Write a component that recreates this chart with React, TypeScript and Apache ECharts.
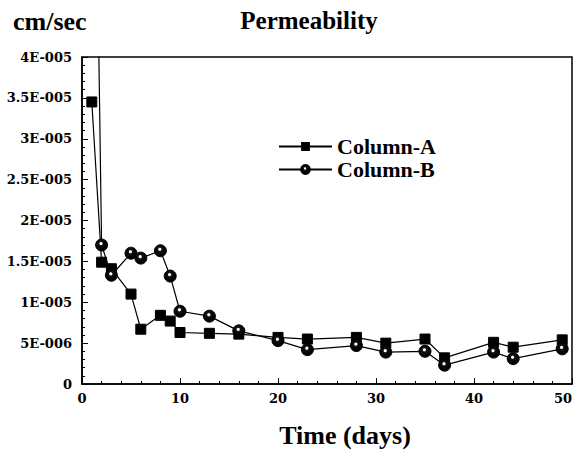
import React, { useEffect, useRef } from "react";
import * as echarts from "echarts";

// Elapsed time in days for each measurement
const daysA = [1, 2, 3, 5, 6, 8, 9, 10, 13, 16, 20, 23, 28, 31, 35, 37, 42, 44, 49];
const daysB = [1, 2, 3, 5, 6, 8, 9, 10, 13, 16, 20, 23, 28, 31, 35, 37, 42, 44, 49];

// Permeability (cm/sec)
const columnA = [
  3.45e-5, 1.49e-5, 1.41e-5, 1.1e-5, 6.7e-6, 8.4e-6, 7.7e-6, 6.3e-6, 6.2e-6, 6.1e-6,
  5.7e-6, 5.5e-6, 5.7e-6, 5.0e-6, 5.5e-6, 3.2e-6, 5.1e-6, 4.5e-6, 5.4e-6,
];
const columnB = [
  1.0e-4, 1.7e-5, 1.33e-5, 1.6e-5, 1.54e-5, 1.63e-5, 1.32e-5, 8.9e-6, 8.3e-6, 6.5e-6,
  5.3e-6, 4.2e-6, 4.7e-6, 3.9e-6, 4.0e-6, 2.3e-6, 3.9e-6, 3.1e-6, 4.3e-6,
];

const yTickLabels = ["0", "5E-006", "1E-005", "1.5E-005", "2E-005", "2.5E-005", "3E-005", "3.5E-005", "4E-005"];
const yStep = 5e-6;

const serif = "'Liberation Serif', 'Times New Roman', serif";
const tickFont = "'DejaVu Serif', serif";

export default function App() {
  const ref = useRef<HTMLDivElement>(null);

  useEffect(() => {
    if (!ref.current) return;
    const chart = echarts.init(ref.current, null, { renderer: "svg" });

    // Shaded ball marker: black sphere with a small white highlight
    const sphere = new echarts.graphic.RadialGradient(0.45, 0.38, 0.5, [
      { offset: 0, color: "#ffffff" },
      { offset: 0.18, color: "#ffffff" },
      { offset: 0.34, color: "#111111" },
      { offset: 1, color: "#000000" },
    ]);

    chart.setOption({
      animation: false,
      backgroundColor: "#ffffff",
      grid: {
        left: 82,
        right: 7,
        top: 57,
        bottom: 68,
        outerBoundsMode: "none",
        containLabel: false,
        show: true,
        borderColor: "#000",
        borderWidth: 1.5,
        backgroundColor: "transparent",
      },
      graphic: [
        {
          type: "text",
          left: 13,
          top: 8,
          style: { text: "cm/sec", font: `bold 26px ${serif}`, fill: "#000" },
        },
        {
          type: "text",
          x: 309,
          y: 8,
          style: {
            text: "Permeability",
            font: `bold 25px ${serif}`,
            fill: "#000",
            align: "center",
            verticalAlign: "top",
          },
        },
      ],
      legend: {
        orient: "vertical",
        left: 273,
        top: 130,
        itemWidth: 53,
        itemHeight: 11,
        itemGap: 0,
        textStyle: {
          fontFamily: serif,
          fontWeight: "bold",
          fontSize: 22,
          color: "#000",
          lineHeight: 23,
        },
        data: ["Column-A", "Column-B"],
      },
      xAxis: {
        type: "value",
        min: 0,
        max: 50,
        interval: 10,
        name: "Time (days)",
        nameLocation: "middle",
        nameGap: 38,
        nameTextStyle: {
          fontFamily: serif,
          fontWeight: "bold",
          fontSize: 26,
          color: "#000",
          padding: [0, 0, 0, 36],
        },
        axisLine: { lineStyle: { color: "#000", width: 1.5 } },
        axisTick: { inside: true, length: 6, lineStyle: { color: "#000" } },
        minorTick: { show: true, splitNumber: 5, length: 3, lineStyle: { color: "#000" } },
        splitLine: { show: false },
        axisLabel: {
          margin: 8,
          fontFamily: tickFont,
          fontWeight: "bold",
          fontSize: 13,
          color: "#000",
          alignMaxLabel: "right",
        },
      },
      yAxis: {
        type: "value",
        min: 0,
        max: 4e-5,
        interval: yStep,
        axisLine: { lineStyle: { color: "#000", width: 1.5 } },
        axisTick: { inside: true, length: 6, lineStyle: { color: "#000" } },
        minorTick: { show: true, splitNumber: 5, length: 3, lineStyle: { color: "#000" } },
        splitLine: { show: false },
        axisLabel: {
          margin: 10,
          fontFamily: tickFont,
          fontWeight: "bold",
          fontSize: 13,
          color: "#000",
          formatter: (v: number) => yTickLabels[Math.round(v / yStep)] ?? "",
        },
      },
      series: [
        {
          name: "Column-A",
          type: "line",
          data: daysA.map((d, i) => [d, columnA[i]]),
          symbol: "rect",
          symbolSize: 10,
          clip: true,
          lineStyle: { color: "#000", width: 1.2 },
          itemStyle: { color: "#000", borderColor: "#000" },
          z: 3,
        },
        {
          name: "Column-B",
          type: "line",
          data: daysB.map((d, i) => [d, columnB[i]]),
          symbol: "circle",
          symbolSize: 12,
          clip: true,
          lineStyle: { color: "#000", width: 1.2 },
          itemStyle: { color: sphere, borderColor: "#000", borderWidth: 1 },
          z: 4,
        },
      ],
    });

    return () => chart.dispose();
  }, []);

  return <div ref={ref} style={{ width: 579, height: 452, position: "absolute", left: 0, top: 0 }} />;
}
